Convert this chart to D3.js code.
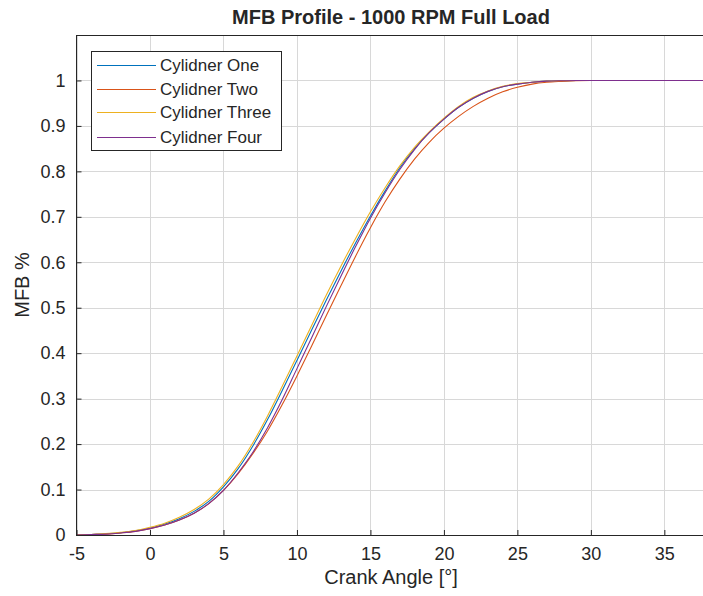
<!DOCTYPE html>
<html>
<head>
<meta charset="utf-8">
<script src="https://cdn.jsdelivr.net/npm/d3@7/dist/d3.min.js"></script>
<style>
  html, body { margin: 0; padding: 0; background: #ffffff; }
  svg { display: block; }
  text { font-family: "Liberation Sans", Arial, Helvetica, sans-serif; fill: #262626; }
</style>
</head>
<body>
<svg id="chart" width="703" height="596"></svg>
<script>
// ---- Data ----
const crankAngle = [-5,-4,-3,-2,-1,0,1,2,3,4,5,6,7,8,9,10,11,12,13,14,15,16,17,18,19,20,21,22,23,24,25,26,27,28,29,30,31,32,33,34,35,36,37,38];

const cylinderOne = [0,0.001,0.0025,0.005,0.009,0.015,0.024,0.036,0.052,0.074,0.106,0.146,0.196,0.254,0.318,0.384,0.451,0.517,0.581,0.643,0.702,0.757,0.808,0.850,0.885,0.915,0.941,0.961,0.976,0.986,0.992,0.996,0.9985,0.9995,1,1,1,1,1,1,1,1,1,1];

const cylinderTwo = [0,0.001,0.002,0.0045,0.008,0.014,0.022,0.033,0.048,0.069,0.098,0.135,0.179,0.229,0.287,0.350,0.416,0.483,0.549,0.614,0.676,0.733,0.783,0.827,0.864,0.895,0.921,0.943,0.961,0.975,0.985,0.992,0.996,0.998,0.9995,1,1,1,1,1,1,1,1,1];

const cylinderThree = [0,0.001,0.003,0.006,0.010,0.017,0.026,0.039,0.056,0.079,0.111,0.152,0.203,0.262,0.327,0.394,0.461,0.528,0.592,0.653,0.711,0.764,0.812,0.853,0.887,0.917,0.943,0.963,0.977,0.987,0.993,0.996,0.9985,0.9995,1,1,1,1,1,1,1,1,1,1];

const cylinderFour = [0,0.001,0.002,0.0045,0.008,0.014,0.022,0.033,0.048,0.069,0.098,0.137,0.182,0.236,0.298,0.366,0.434,0.503,0.570,0.635,0.697,0.753,0.804,0.848,0.885,0.915,0.941,0.961,0.976,0.986,0.992,0.996,0.9985,0.9995,1,1,1,1,1,1,1,1,1,1];

const seriesNames = ["Cylidner One", "Cylidner Two", "Cylidner Three", "Cylidner Four"];
const seriesValues = [cylinderOne, cylinderTwo, cylinderThree, cylinderFour];
const seriesColors = ["#0072BD", "#D95319", "#EDB120", "#7E2F8E"];

const xTicks = [-5, 0, 5, 10, 15, 20, 25, 30, 35];
const yTicks = [0, 0.1, 0.2, 0.3, 0.4, 0.5, 0.6, 0.7, 0.8, 0.9, 1];

const titleText = "MFB Profile - 1000 RPM Full Load";
const xLabelText = "Crank Angle [°]";
const yLabelText = "MFB %";

// ---- Layout ----
const svg = d3.select("#chart");
const pLeft = 76.5, pRight = 705.5, pTop = 35, pBottom = 535;

const x = d3.scaleLinear().domain([-5, 37.8]).range([pLeft, pRight]);
const y = d3.scaleLinear().domain([0, 1.1]).range([pBottom, pTop]);

// grid
const grid = svg.append("g");
grid.selectAll("line.vg").data(xTicks).enter().append("line")
  .attr("x1", d => Math.round(x(d)) + 0.5).attr("x2", d => Math.round(x(d)) + 0.5)
  .attr("y1", pTop).attr("y2", pBottom)
  .attr("stroke", "#d8d8d8").attr("stroke-width", 1);
grid.selectAll("line.hg").data(yTicks).enter().append("line")
  .attr("y1", d => Math.round(y(d)) + 0.5).attr("y2", d => Math.round(y(d)) + 0.5)
  .attr("x1", pLeft).attr("x2", pRight)
  .attr("stroke", "#d8d8d8").attr("stroke-width", 1);

// clip
svg.append("clipPath").attr("id", "plotclip").append("rect")
  .attr("x", pLeft).attr("y", pTop).attr("width", pRight - pLeft).attr("height", pBottom - pTop);

// lines
const line = d3.line()
  .x((d, i) => x(crankAngle[i]))
  .y(d => y(d))
  .curve(d3.curveMonotoneX);

const lines = svg.append("g").attr("clip-path", "url(#plotclip)");
seriesValues.forEach((vals, k) => {
  lines.append("path")
    .datum(vals)
    .attr("d", line)
    .attr("fill", "none")
    .attr("stroke", seriesColors[k])
    .attr("stroke-width", 1.1);
});

// axes
const xAxis = d3.axisBottom(x).tickValues(xTicks).tickSizeInner(-5).tickSizeOuter(0).tickPadding(12)
  .tickFormat(d => String(d));
const yAxis = d3.axisLeft(y).tickValues(yTicks).tickSizeInner(-5).tickSizeOuter(0).tickPadding(11)
  .tickFormat(d => String(+d.toFixed(1)));

const gx = svg.append("g").attr("transform", `translate(0,${pBottom})`).call(xAxis);
const gy = svg.append("g").attr("transform", `translate(${pLeft},0)`).call(yAxis);
[gx, gy].forEach(g => {
  g.select(".domain").remove();
  g.selectAll(".tick line").attr("stroke", "#262626");
  g.selectAll(".tick text").style("font-size", "18px").style("font-family", "'Liberation Sans', Arial, sans-serif").attr("fill", "#262626");
});

// axes box
svg.append("rect")
  .attr("x", pLeft).attr("y", pTop + 0.5)
  .attr("width", pRight - pLeft).attr("height", pBottom - pTop)
  .attr("fill", "none").attr("stroke", "#262626").attr("stroke-width", 1);

// title and labels
svg.append("text").attr("x", (pLeft + pRight) / 2).attr("y", 24)
  .attr("text-anchor", "middle").style("font-size", "20px").style("font-weight", "bold")
  .attr("fill", "#000").text(titleText);

svg.append("text").attr("x", (pLeft + pRight) / 2).attr("y", 584)
  .attr("text-anchor", "middle").style("font-size", "20px").text(xLabelText);

svg.append("text")
  .attr("transform", `translate(29,${(pTop + pBottom) / 2}) rotate(-90)`)
  .attr("text-anchor", "middle").style("font-size", "20px").text(yLabelText);

// legend
const lg = svg.append("g");
lg.append("rect").attr("x", 91.5).attr("y", 51.5).attr("width", 190).attr("height", 99)
  .attr("fill", "#fff").attr("stroke", "#262626").attr("stroke-width", 1);
const rowY = [65, 89, 112, 137];
seriesNames.forEach((name, k) => {
  lg.append("line").attr("x1", 97).attr("x2", 156)
    .attr("y1", rowY[k] + 0.5).attr("y2", rowY[k] + 0.5)
    .attr("stroke", seriesColors[k]).attr("stroke-width", 1.1);
  lg.append("text").attr("x", 160).attr("y", rowY[k] + 6)
    .style("font-size", "17px").text(name);
});
</script>
</body>
</html>
